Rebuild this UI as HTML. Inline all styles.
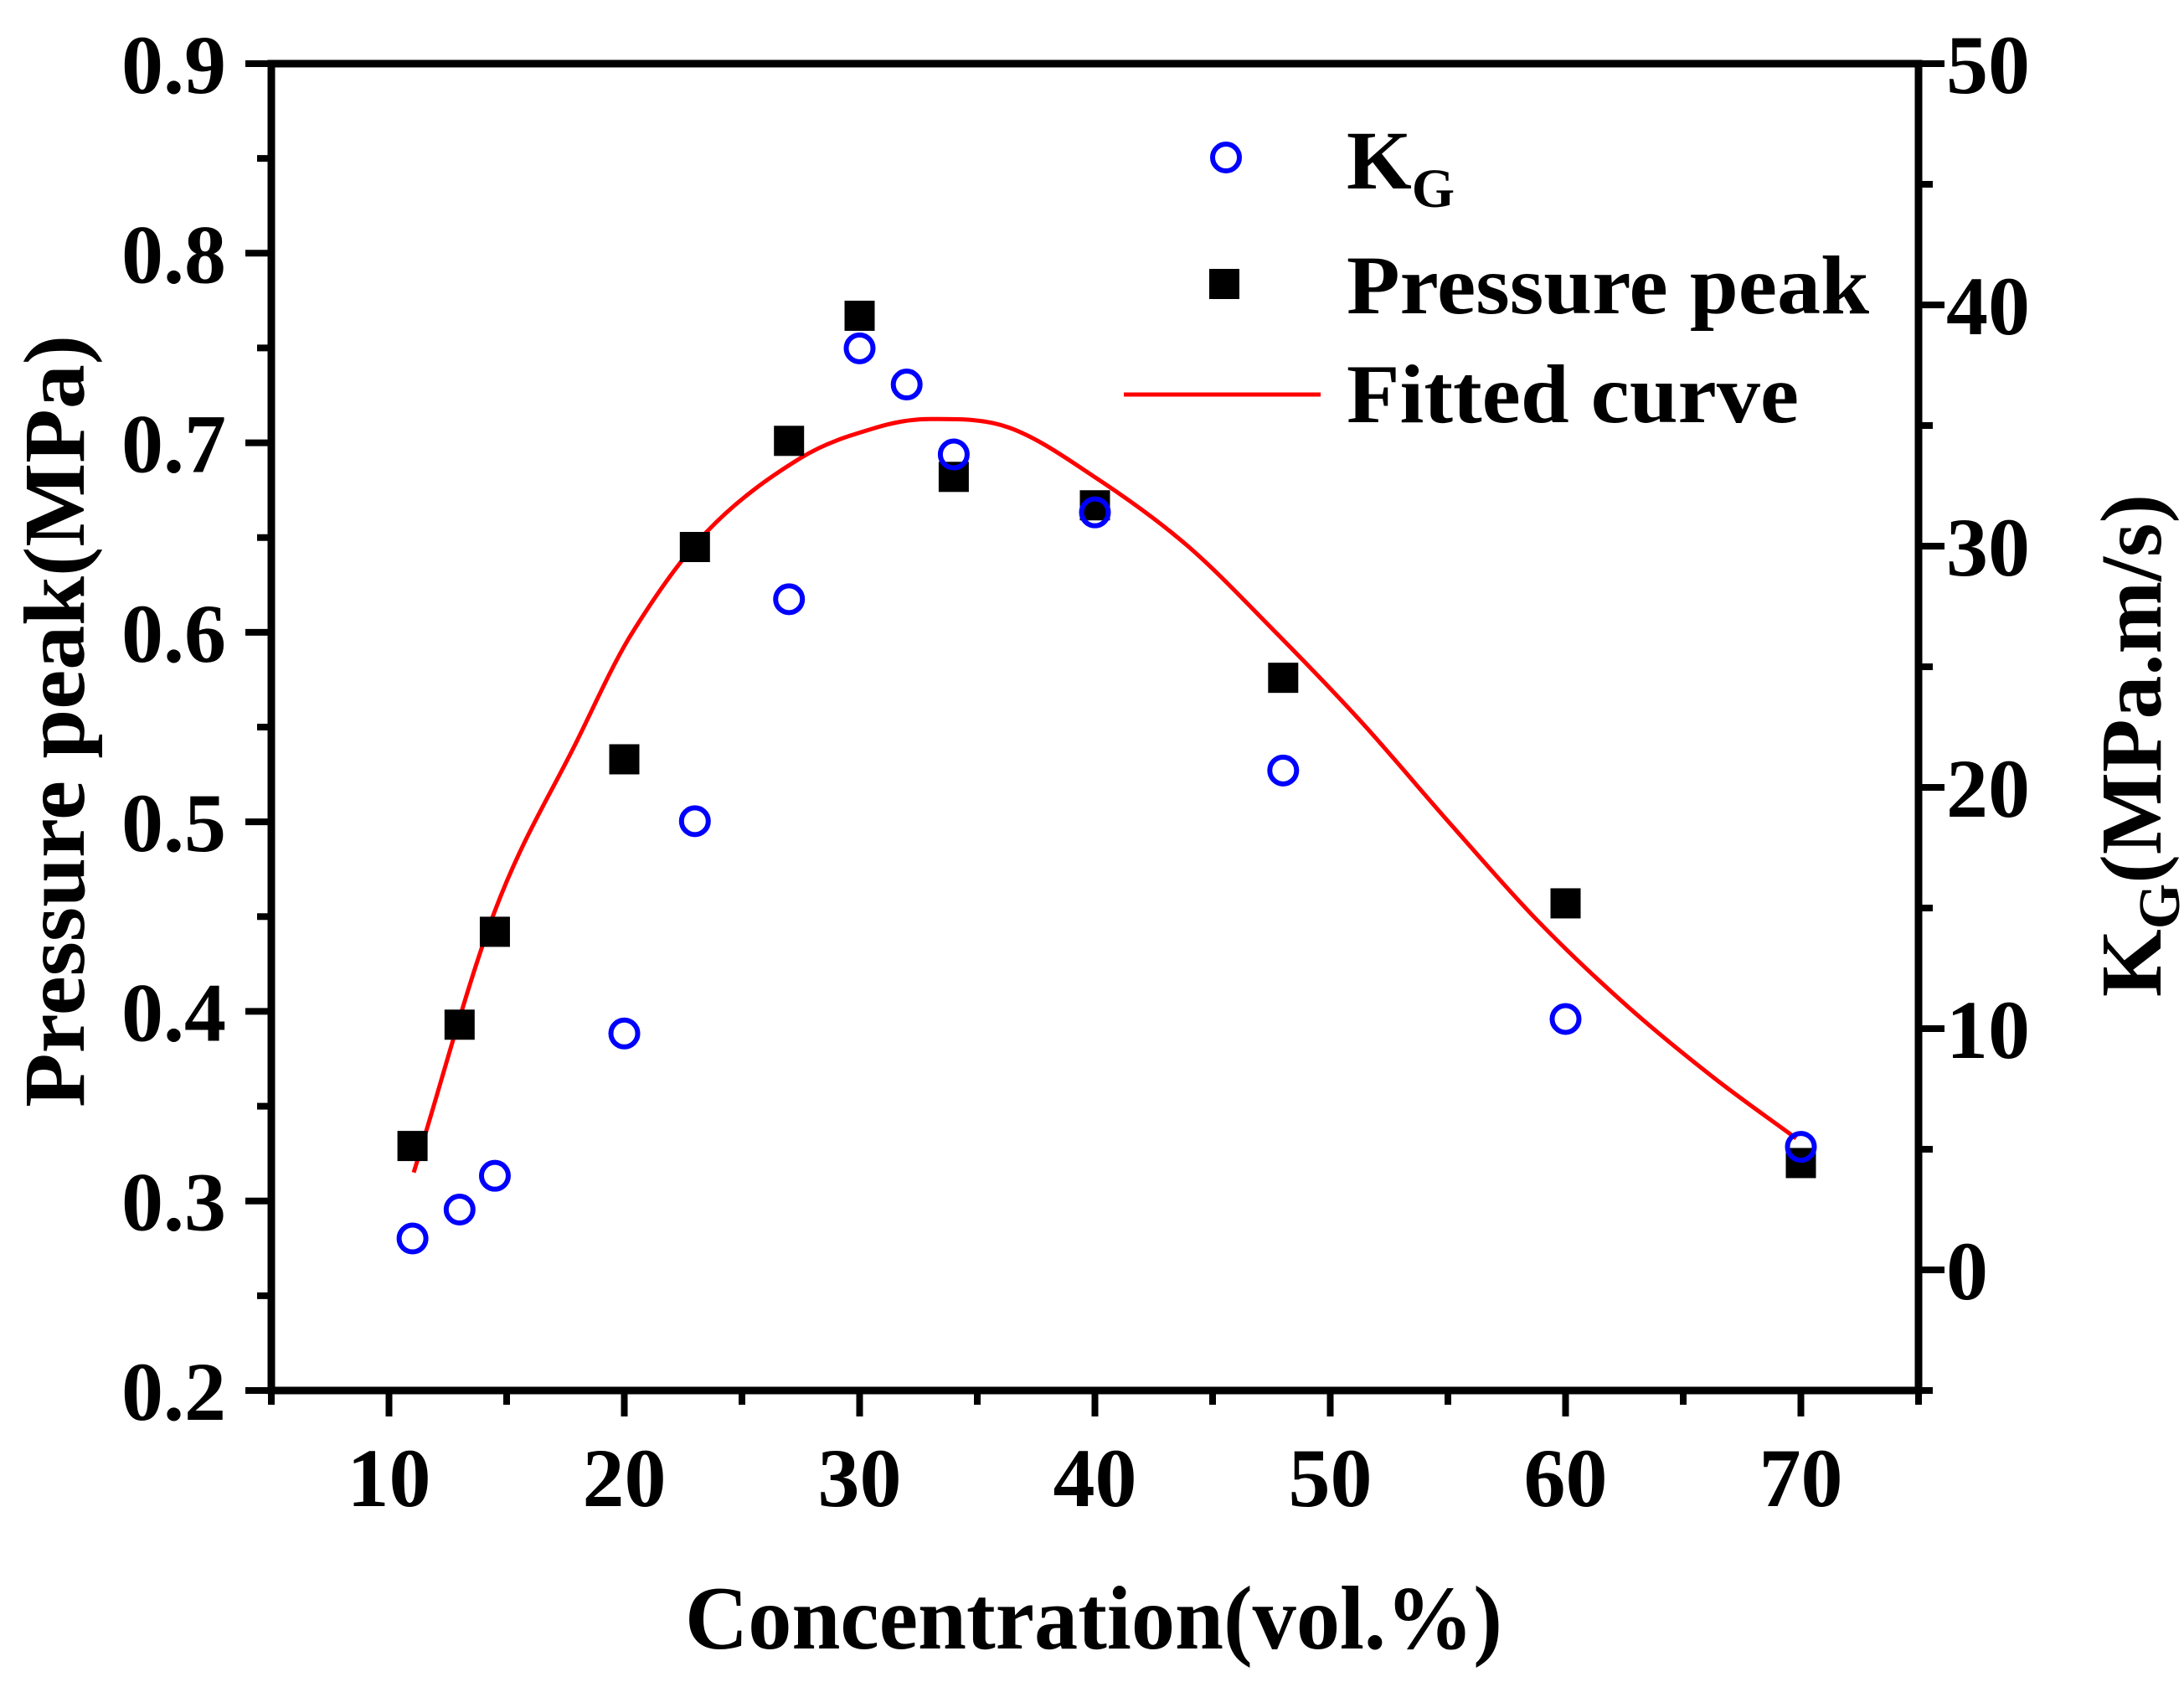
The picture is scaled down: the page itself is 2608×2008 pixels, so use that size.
<!DOCTYPE html>
<html><head><meta charset="utf-8"><style>
html,body{margin:0;padding:0;background:#fff}
svg{display:block}
text{font-family:"Liberation Serif",serif;font-weight:bold;fill:#000}
</style></head><body>
<svg id="chart" width="2608" height="2008" viewBox="0 0 2608 2008" xmlns="http://www.w3.org/2000/svg">
<g id="axes"></g>
<g id="marks"></g>
<g id="legend">
  <circle cx="1464" cy="188" r="16" fill="none" stroke="#0000ff" stroke-width="6"/>
  <text x="1608" y="225" font-size="100">K<tspan font-size="66" dy="22">G</tspan></text>
  <rect x="1444" y="321" width="36" height="36" fill="#000"/>
  <text x="1608" y="374" font-size="100" textLength="624" lengthAdjust="spacingAndGlyphs">Pressure peak</text>
  <line x1="1342" y1="471" x2="1577" y2="471" stroke="#ff0000" stroke-width="5"/>
  <text x="1608" y="504" font-size="100" textLength="540" lengthAdjust="spacingAndGlyphs">Fitted curve</text>
</g>
<text x="1306" y="1968" font-size="108" text-anchor="middle" textLength="976" lengthAdjust="spacingAndGlyphs">Concentration(vol.%)</text>
<text transform="translate(100,861) rotate(-90)" font-size="104" text-anchor="middle" textLength="922" lengthAdjust="spacingAndGlyphs">Pressure peak(MPa)</text>
<text transform="translate(2580,890) rotate(-90)" font-size="104" text-anchor="middle">K<tspan font-size="70" dy="22">G</tspan><tspan dy="-22">(MPa.m/s)</tspan></text>
</svg>
<script>
const concX = [11, 13, 14.5, 20, 23, 27, 30, 34, 40, 48, 60, 70];
const pressurePeak = [0.329, 0.393, 0.442, 0.533, 0.645, 0.701, 0.767, 0.682, 0.667, 0.576, 0.457, 0.320];
const kgX = [11, 13, 14.5, 20, 23, 27, 30, 32, 34, 40, 48, 60, 70];
const kgValues = [1.3, 2.5, 3.9, 9.8, 18.6, 27.8, 38.2, 36.7, 33.8, 31.4, 20.7, 10.4, 5.1];
const fitX = [11.05, 14.5, 18, 20.3, 23.5, 27.5, 30.7, 33, 36.35, 40.1, 43.9, 47.6, 51.3, 55.1, 58.8, 62.6, 66.3, 69.8];
const fitY = [0.315, 0.453, 0.543, 0.599, 0.653, 0.692, 0.708, 0.7125, 0.708, 0.681, 0.646, 0.601, 0.553, 0.499, 0.448, 0.403, 0.365, 0.333];
const xTicks = [10, 20, 30, 40, 50, 60, 70];
const yLeftTicks = [0.2, 0.3, 0.4, 0.5, 0.6, 0.7, 0.8, 0.9];
const yRightTicks = [0, 10, 20, 30, 40, 50];

const NS = "http://www.w3.org/2000/svg";
const L = 324, R = 2291, T = 76, B = 1660;
const xs = v => L + (v - 5) / 70 * (R - L);
const yl = v => B - (v - 0.2) / 0.7 * (B - T);
const yr = v => B - (v + 5) / 55 * (B - T);
function mk(tag, attrs, parent) {
  const e = document.createElementNS(NS, tag);
  for (const k in attrs) e.setAttribute(k, attrs[k]);
  parent.appendChild(e);
  return e;
}
const axes = document.getElementById('axes');
const marks = document.getElementById('marks');

const frame = mk('rect', {x: L, y: T, width: R - L, height: B - T, fill: 'none', stroke: '#000', 'stroke-width': 9}, axes);



for (let v = 5; v <= 75; v += 5) {
  const major = v % 10 === 0;
  const t = mk('line', {x1: xs(v), x2: xs(v), y1: B, y2: B + (major ? 31 : 17), stroke: '#000', 'stroke-width': 8}, axes);
  
  
}
xTicks.forEach(v => {
  const t = mk('text', {x: xs(v), y: B + 138, 'font-size': 100, 'text-anchor': 'middle'}, axes);
  t.textContent = String(v);
  
  
});
for (let i = 0; i <= 14; i++) {
  const v = 0.2 + i * 0.05;
  const major = i % 2 === 0;
  const t = mk('line', {x1: L - (major ? 31 : 17), x2: L, y1: yl(v), y2: yl(v), stroke: '#000', 'stroke-width': 8}, axes);
  
  
}
yLeftTicks.forEach(v => {
  const t = mk('text', {x: 270, y: yl(v) + 35, 'font-size': 100, 'text-anchor': 'end'}, axes);
  t.textContent = v.toFixed(1);
  
  
});
for (let v = -5; v <= 50; v += 5) {
  const major = v % 10 === 0;
  const t = mk('line', {x1: R, x2: R + (major ? 31 : 17), y1: yr(v), y2: yr(v), stroke: '#000', 'stroke-width': 8}, axes);
  
  
}
yRightTicks.forEach(v => {
  const t = mk('text', {x: 2324, y: yr(v) + 35, 'font-size': 100, 'text-anchor': 'start'}, axes);
  t.textContent = String(v);
  
  
});

// smooth curve: cubic Hermite in x-space with slopes from neighbours (handles uneven spacing)
const pts = fitX.map((x, i) => [xs(x), yl(fitY[i])]);
const n = pts.length;
const slopes = pts.map((p, i) => {
  const a = pts[Math.max(0, i - 1)], b = pts[Math.min(n - 1, i + 1)];
  return (b[1] - a[1]) / (b[0] - a[0]);
});
let d = `M${pts[0][0]},${pts[0][1]}`;
for (let i = 0; i < n - 1; i++) {
  const p1 = pts[i], p2 = pts[i + 1];
  const h = (p2[0] - p1[0]) / 3;
  d += ` C${p1[0] + h},${p1[1] + slopes[i] * h} ${p2[0] - h},${p2[1] - slopes[i + 1] * h} ${p2[0]},${p2[1]}`;
}
const curve = mk('path', {d: d, fill: 'none', stroke: '#ff0000', 'stroke-width': 5}, marks);



concX.forEach((x, i) => {
  const s = mk('rect', {x: xs(x) - 18, y: yl(pressurePeak[i]) - 18, width: 36, height: 36, fill: '#000'}, marks);
  
  
});
kgX.forEach((x, i) => {
  const c = mk('circle', {cx: xs(x), cy: yr(kgValues[i]), r: 16, fill: 'none', stroke: '#0000ff', 'stroke-width': 6}, marks);
  
  
});
</script>
</body></html>
